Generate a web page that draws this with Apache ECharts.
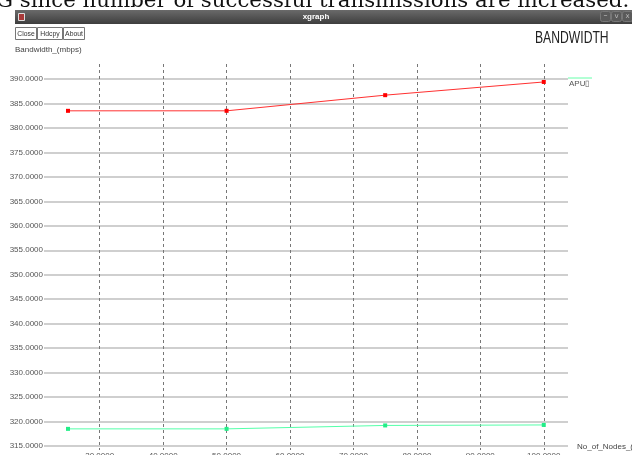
<!DOCTYPE html>
<html>
<head>
<meta charset="utf-8">
<script src="https://cdn.jsdelivr.net/npm/echarts@6/dist/echarts.min.js"></script>
<style>html,body{margin:0;padding:0;background:#fff;}#c{width:632px;height:455px;}</style>
</head>
<body>
<div id="c"></div>
<script>
const nodes = [25, 50, 75, 100];
const seriesRed = [383.5, 383.5, 386.7, 389.4];
const seriesGreen = [318.5, 318.5, 319.2, 319.3];
const xTicks = [30, 40, 50, 60, 70, 80, 90, 100];
const yTicks = [315, 320, 325, 330, 335, 340, 345, 350, 355, 360, 365, 370, 375, 380, 385, 390];
const legendName = 'APU\u25AF';
const yName = 'Bandwidth_(mbps)';
const xName = 'No_of_Nodes_(units)';
const chartTitle = 'BANDWIDTH';
const windowTitle = 'xgraph';
const docText = 'G since number of successful transmissions are increased.';
const buttons = ['Close', 'Hdcpy', 'About'];

const chart = echarts.init(document.getElementById('c'), null, {renderer: 'canvas'});
const small = '8px "Liberation Sans", Arial, sans-serif';

const btnX = [15, 37, 63];
const btnW = [22, 26, 22];
const btnGraphics = buttons.map((b, i) => ({
  type: 'group', children: [
    {type: 'rect', shape: {x: btnX[i] + 0.5, y: 27.5, width: btnW[i] - 1, height: 12}, style: {fill: '#fff', stroke: '#777', lineWidth: 1}},
    {type: 'text', x: btnX[i] + btnW[i] / 2, y: 33.5, scaleX: 0.85, style: {text: b, x: 0, y: 0, font: small, fill: '#333', align: 'center', verticalAlign: 'middle'}}
  ]
}));

chart.setOption({
  animation: false,
  backgroundColor: '#fff',
  grid: {left: 44, right: 64, top: 64, bottom: 5, containLabel: false, outerBoundsMode: 'none'},
  xAxis: {
    type: 'value', min: 21.22, max: 103.82,
    axisLine: {show: false},
    axisTick: {show: false, customValues: xTicks},
    axisLabel: {customValues: xTicks, margin: 2, fontSize: 8, color: '#555', fontFamily: 'Liberation Sans',
      formatter: v => v.toFixed(4), verticalAlign: 'top'},
    splitLine: {show: true, lineStyle: {color: '#777', type: [3, 3], width: 1}}
  },
  yAxis: {
    type: 'value', min: 314.18, max: 393.07,
    axisLine: {show: false},
    axisTick: {show: false, customValues: yTicks},
    axisLabel: {customValues: yTicks, margin: 1, fontSize: 8, color: '#555', fontFamily: 'Liberation Sans',
      formatter: v => v.toFixed(4)},
    splitLine: {show: true, lineStyle: {color: '#cfcfcf', width: 2}}
  },
  series: [
    {type: 'line', data: nodes.map((x, i) => [x, seriesRed[i]]), symbol: 'rect', symbolSize: 4, showSymbol: true,
      lineStyle: {color: '#ff3030', width: 1}, itemStyle: {color: '#ff0000'}, z: 5},
    {type: 'line', name: legendName, data: nodes.map((x, i) => [x, seriesGreen[i]]), symbol: 'rect', symbolSize: 4, showSymbol: true,
      lineStyle: {color: '#55ffaa', width: 1}, itemStyle: {color: '#22ee88'}, z: 5}
  ],
  graphic: [
    {type: 'text', x: -4, y: 12, scaleX: 1.065, z: 1, style: {text: docText, x: 0, y: 0, font: '20px "DejaVu Serif", serif', fill: '#111', align: 'left', verticalAlign: 'bottom'}},
    {type: 'rect', z: 2, shape: {x: 15, y: 10, width: 617, height: 14},
      style: {fill: new echarts.graphic.LinearGradient(0, 0, 0, 1, [{offset: 0, color: '#6a6a6a'}, {offset: 1, color: '#3e3e3e'}])}},
    {type: 'rect', z: 3, shape: {x: 18.5, y: 13.5, width: 6, height: 7}, style: {fill: '#a83a3a', stroke: '#ddd', lineWidth: 1}},
    {type: 'text', z: 3, style: {text: windowTitle, x: 316, y: 17, font: 'bold 8px "Liberation Sans", sans-serif', fill: '#fff', align: 'center', verticalAlign: 'middle'}},
    {type: 'rect', z: 3, shape: {x: 600.5, y: 11.5, width: 10, height: 10, r: 2}, style: {fill: '#5a5a5a', stroke: '#777', lineWidth: 1}},
    {type: 'rect', z: 3, shape: {x: 611.5, y: 11.5, width: 10, height: 10, r: 2}, style: {fill: '#5a5a5a', stroke: '#777', lineWidth: 1}},
    {type: 'rect', z: 3, shape: {x: 622.5, y: 11.5, width: 10, height: 10, r: 2}, style: {fill: '#5a5a5a', stroke: '#777', lineWidth: 1}},
    {type: 'text', z: 4, style: {text: '\u2013', x: 605.5, y: 16, font: '8px "DejaVu Sans"', fill: '#bbb', align: 'center', verticalAlign: 'middle'}},
    {type: 'text', z: 4, style: {text: 'v', x: 616.5, y: 16, font: '7px "DejaVu Sans"', fill: '#bbb', align: 'center', verticalAlign: 'middle'}},
    {type: 'text', z: 4, style: {text: 'x', x: 627.5, y: 16, font: '7px "DejaVu Sans"', fill: '#bbb', align: 'center', verticalAlign: 'middle'}},
    ...btnGraphics,
    {type: 'text', style: {text: yName, x: 15, y: 50, font: small, fill: '#444', align: 'left', verticalAlign: 'middle'}},
    {type: 'text', x: 535, y: 39, scaleX: 0.76, style: {text: chartTitle, x: 0, y: 0, font: '16px "Liberation Sans", Arial, sans-serif', fill: '#222', align: 'left', verticalAlign: 'middle'}},
    {type: 'line', shape: {x1: 568, y1: 78, x2: 592, y2: 78}, style: {stroke: '#66ffaa', lineWidth: 1}},
    {type: 'text', style: {text: legendName, x: 569, y: 84, font: small, fill: '#555', align: 'left', verticalAlign: 'middle'}},
    {type: 'text', style: {text: xName, x: 577, y: 447, font: small, fill: '#444', align: 'left', verticalAlign: 'middle'}}
  ]
});
</script>
</body>
</html>
